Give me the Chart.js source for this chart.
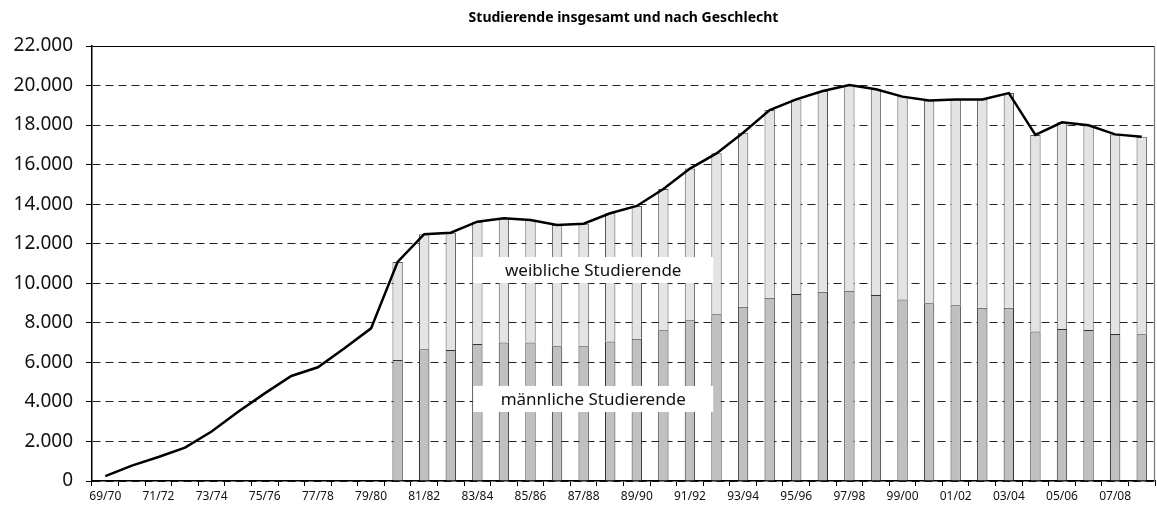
<!DOCTYPE html>
<html>
<head>
<meta charset="utf-8">
<script src="https://cdn.jsdelivr.net/npm/chart.js@4.4.1/dist/chart.umd.min.js"></script>
<style>
  html, body { margin: 0; padding: 0; background: #fff; }
  #wrap { width: 1157px; height: 507px; position: relative; }
</style>
</head>
<body>
<div id="wrap"><canvas id="c" width="1157" height="507"></canvas></div>
<script>
const categories = ["69/70","70/71","71/72","72/73","73/74","74/75","75/76","76/77","77/78","78/79","79/80",
  "80/81","81/82","82/83","83/84","84/85","85/86","86/87","87/88","88/89","89/90",
  "90/91","91/92","92/93","93/94","94/95","95/96","96/97","97/98","98/99","99/00",
  "00/01","01/02","02/03","03/04","04/05","05/06","06/07","07/08","08/09"];

const totalStudents = [250, 775, 1215, 1690, 2500, 3500, 4430, 5310, 5750, 6710, 7720,
  11080, 12480, 12560, 13115, 13285, 13200, 12950, 13010, 13540, 13910,
  14770, 15800, 16570, 17610, 18760, 19300, 19720, 20030, 19810, 19440,
  19250, 19290, 19300, 19620, 17500, 18140, 17990, 17530, 17410];

const maleStudents = [null, null, null, null, null, null, null, null, null, null, null,
  6120, 6660, 6625, 6930, 7000, 7010, 6810, 6810, 7050, 7200,
  7620, 8125, 8430, 8815, 9270, 9455, 9575, 9625, 9405, 9185,
  8985, 8885, 8765, 8765, 7555, 7685, 7635, 7435, 7420];

const femaleStudents = [null, null, null, null, null, null, null, null, null, null, null,
  4960, 5820, 5935, 6185, 6285, 6190, 6140, 6200, 6490, 6710,
  7150, 7675, 8140, 8795, 9490, 9845, 10145, 10405, 10405, 10255,
  10265, 10405, 10535, 10855, 9945, 10455, 10355, 10095, 9990];

const yTicks = [0, 2000, 4000, 6000, 8000, 10000, 12000, 14000, 16000, 18000, 20000, 22000];

const titleText = "Studierende insgesamt und nach Geschlecht";
const annotations = [
  { text: "weibliche Studierende", cx: 18.36, cy: 10670 },
  { text: "männliche Studierende", cx: 18.36, cy: 4150 }
];

function fmt(v) {
  return String(v).replace(/\B(?=(\d{3})+(?!\d))/g, ".");
}

const FONT = "'Noto Sans', 'DejaVu Sans', sans-serif";

const decor = {
  id: 'decor',
  afterDatasetsDraw(chart) {
    const ctx = chart.ctx;
    const a = chart.chartArea;
    const xs = chart.scales.x, ys = chart.scales.y;
    ctx.save();
    ctx.strokeStyle = '#000';
    ctx.lineWidth = 1.2;
    ctx.beginPath();
    ctx.moveTo(a.left, a.top + 0.5);
    ctx.lineTo(a.right, a.top + 0.5);
    ctx.stroke();
    ctx.strokeStyle = '#777';
    ctx.beginPath();
    ctx.moveTo(a.right - 0.5, a.top);
    ctx.lineTo(a.right - 0.5, a.bottom);
    ctx.stroke();
    ctx.font = "17px " + FONT;
    ctx.textAlign = 'center';
    ctx.textBaseline = 'middle';
    const step = xs.getPixelForValue(1) - xs.getPixelForValue(0);
    annotations.forEach(an => {
      const px = xs.getPixelForValue(0) + an.cx * step;
      const py = ys.getPixelForValue(an.cy);
      const w = 240, h = 26;
      ctx.fillStyle = '#fff';
      ctx.fillRect(px - w / 2, py - h / 2, w, h);
      ctx.fillStyle = '#111';
      ctx.fillText(an.text, px, py + 1);
    });
    ctx.restore();
  },
  afterDraw(chart) {
    const ctx = chart.ctx;
    const a = chart.chartArea;
    ctx.save();
    ctx.font = "bold 14px " + FONT;
    ctx.fillStyle = '#000';
    ctx.textAlign = 'center';
    ctx.textBaseline = 'middle';
    ctx.fillText(titleText, (a.left + a.right) / 2, 18);
    ctx.restore();
  }
};

new Chart(document.getElementById('c'), {
  type: 'bar',
  data: {
    labels: categories,
    datasets: [
      {
        label: 'männliche Studierende',
        data: maleStudents,
        backgroundColor: '#c0c0c0',
        borderColor: '#333',
        borderWidth: 1,
        barPercentage: 0.39,
        categoryPercentage: 1,
        stack: 'g',
        order: 1
      },
      {
        label: 'weibliche Studierende',
        data: femaleStudents,
        backgroundColor: '#e4e4e4',
        borderColor: '#555',
        borderWidth: 1,
        barPercentage: 0.39,
        categoryPercentage: 1,
        stack: 'g',
        order: 1
      },
      {
        type: 'line',
        label: 'insgesamt',
        data: totalStudents,
        borderColor: '#000',
        borderWidth: 2.5,
        pointRadius: 0,
        tension: 0,
        fill: false,
        stack: 'total',
        order: 0
      }
    ]
  },
  options: {
    responsive: false,
    animation: false,
    devicePixelRatio: 1,
    layout: { padding: { top: 46, right: 2, left: 0, bottom: 0 } },
    plugins: {
      legend: { display: false },
      title: { display: false },
      tooltip: { enabled: false }
    },
    scales: {
      x: {
        stacked: true,
        offset: true,
        afterFit(s) { s.height = 26; },
        grid: {
          offset: true,
          drawOnChartArea: false,
          drawTicks: true,
          tickLength: 5,
          color: '#000'
        },
        border: { display: true, color: '#000', width: 1.5 },
        ticks: {
          autoSkip: false,
          maxRotation: 0,
          minRotation: 0,
          padding: 3,
          color: '#111',
          font: { family: FONT, size: 12 },
          callback(v, i) { return i % 2 === 0 ? categories[i] : ''; }
        }
      },
      y: {
        stacked: true,
        min: 0,
        max: 22000,
        afterFit(s) { s.width = 92; },
        afterBuildTicks(s) { s.ticks = yTicks.map(v => ({ value: v })); },
        grid: {
          color: '#222',
          lineWidth: 1,
          tickLength: 6,
          tickColor: '#000',
          tickBorderDash: []
        },
        border: { display: true, color: '#000', width: 1.5, dash: [8, 5] },
        ticks: {
          padding: 13,
          color: '#111',
          font: { family: FONT, size: 19 },
          callback(v) { return fmt(v); }
        }
      }
    }
  },
  plugins: [decor]
});
</script>
</body>
</html>
